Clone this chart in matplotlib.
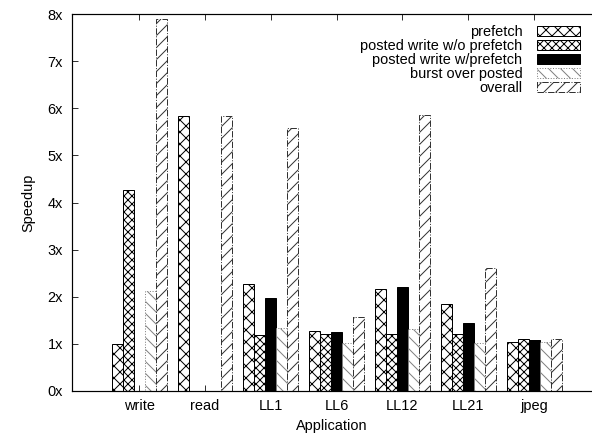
import numpy as np
import matplotlib
matplotlib.use("Agg")
import matplotlib.pyplot as plt

plt.rcParams['font.family'] = ['Liberation Sans', 'DejaVu Sans']
plt.rcParams['hatch.linewidth'] = 1.0

apps = ["write", "read", "LL1", "LL6", "LL12", "LL21", "jpeg"]
prefetch = [1.00, 5.83, 2.28, 1.27, 2.16, 1.84, 1.03]
posted_no_pf = [4.27, 0.0, 1.19, 1.20, 1.20, 1.22, 1.10]
posted_pf = [0.0, 0.0, 1.97, 1.25, 2.20, 1.45, 1.09]
burst = [2.12, 0.0, 1.33, 1.02, 1.31, 1.02, 1.03]
overall = [7.89, 5.83, 5.59, 1.56, 5.86, 2.62, 1.10]

series = [
    ("prefetch", prefetch, dict(facecolor="white", edgecolor="black", hatch="xx", linestyle="-")),
    ("posted write w/o prefetch", posted_no_pf, dict(facecolor="white", edgecolor="black", hatch="xxx", linestyle="-")),
    ("posted write w/prefetch", posted_pf, dict(facecolor="black", edgecolor="black", linestyle="-")),
    ("burst over posted", burst, dict(facecolor="white", edgecolor="0.5", hatch="\\\\", linestyle=":")),
    ("overall", overall, dict(facecolor="white", edgecolor="0.2", hatch="//", linestyle="-.")),
]

fs = 14.5
fig = plt.figure(figsize=(592 / 72, 439 / 72), dpi=72)
ax = fig.add_axes([72 / 592, 48 / 439, 520 / 592, 377 / 439])

x = np.arange(len(apps))
w = 1 / 6
for i, (name, vals, style) in enumerate(series):
    ax.bar(x + (i - 2) * w, vals, width=w, linewidth=1.0, label=name, **style)

ax.set_xlim(-1.02, 6.88)
ax.set_ylim(0, 8)
ax.set_xticks(x)
ax.set_xticklabels(apps)
ax.set_yticks(range(9))
ax.set_yticklabels([f"{i}x" for i in range(9)])
ax.tick_params(axis="x", direction="in", length=6, top=True, labelsize=fs, pad=8)
ax.tick_params(axis="y", direction="in", length=6, labelsize=fs, pad=9)
ax.spines["right"].set_visible(False)
for s in ["left", "bottom", "top"]:
    ax.spines[s].set_linewidth(1.2)

ax.set_xlabel("Application", fontsize=fs, labelpad=6)
ax.set_ylabel("Speedup", fontsize=fs, labelpad=12)

ax.legend(loc="upper right", bbox_to_anchor=(580 / 592, 1 - 25 / 439),
          bbox_transform=fig.transFigure, frameon=False, markerfirst=False,
          fontsize=fs, handlelength=2.97, handleheight=0.7, handletextpad=1.0,
          labelspacing=0.0, borderpad=0, borderaxespad=0)

fig.savefig("out.png", dpi=72)
